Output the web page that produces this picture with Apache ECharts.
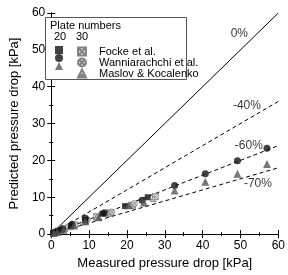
<!DOCTYPE html>
<html>
<head>
<meta charset="UTF-8">
<script src="https://cdn.jsdelivr.net/npm/echarts@6/dist/echarts.min.js"></script>
<style>
  html, body { margin: 0; padding: 0; background: #fff; }
  #chart { width: 288px; height: 275px; }
</style>
</head>
<body>
<div id="chart"></div>
<script>
// measured vs predicted pressure drop [kPa]
var focke20 = [[0.5,0.3],[1.2,0.6],[2.5,1.1],[5.2,2.2],[9.0,3.8],[13.5,5.5],[19.5,7.6],[25.5,10.0]];
var focke30 = [[0.8,0.4],[1.8,0.8],[3.5,1.5],[6.2,2.5],[12.0,4.8],[15.5,5.8],[21.5,7.8],[27.5,10.2]];
var wann20 = [[0.6,0.3],[1.5,0.7],[3.0,1.4],[5.5,2.7],[9.0,4.3],[14.0,5.8],[24.0,9.2],[32.6,13.2],[40.7,16.4],[49.2,19.9],[57.0,23.3]];
var wann30 = [[1.0,0.5],[2.2,1.0],[4.5,2.0],[9.5,3.9],[16.0,6.0],[22.0,8.3]];
var maslov20 = [[0.7,0.3],[1.6,0.6],[3.2,1.2],[6.0,2.3],[9.0,3.5],[12.5,4.6],[20.5,7.8],[24.5,8.6],[32.6,11.8],[40.7,14.2],[49.2,16.4],[57.0,19.0]];
var maslov30 = [[1.1,0.5],[2.6,1.1],[5.0,2.0],[8.5,3.3],[12.0,4.6],[15.0,5.6],[21.0,7.8],[27.0,9.6]];

// deviation lines: predicted = (1 + dev) * measured
var devs = [0, -0.4, -0.6, -0.7];
var devLabels = ['0%', '-40%', '-60%', '-70%'];
var devLabelPos = [[49.7,54.5],[51.7,34.8],[52.2,23.9],[54.6,13.8]];

var font = 'Liberation Sans, Arial, sans-serif';
var sqX = 'path://M0,0L10,0L10,10L0,10Z M0,0L10,10 M10,0L0,10';
var ciX = 'path://M5,0A5,5 0 1 1 5,10A5,5 0 1 1 5,0Z M1.5,1.5L8.5,8.5 M8.5,1.5L1.5,8.5';
var trX = 'path://M5,0L10,10L0,10Z M2.5,5L7.5,10 M7.5,5L2.5,10';

var chart = echarts.init(document.getElementById('chart'));

var series = [];
devs.forEach(function (d, i) {
  series.push({
    type: 'line', data: [[0, 0], [60, 60 * (1 + d)]], symbol: 'none', silent: true,
    lineStyle: { color: '#000', width: 1, type: d === 0 ? 'solid' : [4, 3] },
    z: 1
  });
});
series.push({
  type: 'scatter', silent: true, symbolSize: 1,
  itemStyle: { color: 'transparent' },
  data: devLabelPos.map(function (p, i) { return { value: p, name: devLabels[i] }; }),
  label: { show: true, position: 'inside', formatter: '{b}', color: '#000', fontSize: 12, fontFamily: font }
});

function pts(name, data, symbol, size, fill, border) {
  series.push({
    type: 'scatter', name: name, data: data, symbol: symbol, symbolSize: size,
    itemStyle: { color: fill, borderColor: border, borderWidth: border ? 0.8 : 0 },
    z: 3
  });
}
pts('Focke et al. 30', focke30, sqX, 6, '#ddd', '#666');
pts('Wanniarachchi et al. 30', wann30, ciX, 6, '#ddd', '#666');
pts('Maslov & Kocalenko 30', maslov30, trX, 6, '#ddd', '#666');
pts('Focke et al. 20', focke20, 'rect', 6, '#111', null);
pts('Wanniarachchi et al. 20', wann20, 'circle', 7, '#111', null);
pts('Maslov & Kocalenko 20', maslov20, 'triangle', 8, '#555', null);

var axisBase = {
  type: 'value', min: 0, max: 60, interval: 10,
  axisLine: { show: true, lineStyle: { color: '#000', width: 1 } },
  axisTick: { show: true, inside: true, length: 4, lineStyle: { color: '#000' } },
  minorTick: { show: true, splitNumber: 2, length: 2, lineStyle: { color: '#000' } },
  splitLine: { show: false },
  axisLabel: { color: '#000', fontSize: 12, fontFamily: font, margin: 6 },
  nameTextStyle: { color: '#000', fontSize: 13, fontFamily: font }
};
function ax(extra) { return Object.assign({}, axisBase, extra); }

chart.setOption({
  animation: false,
  grid: { left: 38, right: 5, top: 13, bottom: 31 },
  xAxis: [
    ax({ position: 'bottom', name: 'Measured pressure drop [kPa]', nameLocation: 'middle', nameGap: 14 }),
    ax({ position: 'top', axisLabel: { show: false } })
  ],
  yAxis: [
    ax({ position: 'left', name: 'Predicted pressure drop [kPa]', nameLocation: 'middle', nameGap: 20 }),
    ax({ position: 'right', axisLabel: { show: false } })
  ],
  legend: [
    {
      data: ['Focke et al. 20', 'Wanniarachchi et al. 20', 'Maslov & Kocalenko 20'],
      orient: 'vertical', left: 55, top: 46, itemWidth: 8, itemHeight: 8, itemGap: 0,
      padding: 0, z: 20,
      formatter: function () { return ''; }, selectedMode: false,
      textStyle: { fontSize: 11, lineHeight: 8, height: 8 }
    },
    {
      data: ['Focke et al. 30', 'Wanniarachchi et al. 30', 'Maslov & Kocalenko 30'],
      orient: 'vertical', left: 77, top: 46, itemWidth: 8, itemHeight: 8, itemGap: 0,
      padding: 0, z: 20,
      formatter: function (n) { return n.replace(/ \d+$/, ''); }, selectedMode: false,
      textStyle: { color: '#000', fontSize: 11, fontFamily: font, lineHeight: 8, height: 8, padding: [0, 0, 0, 8] }
    }
  ],
  graphic: [
    { type: 'rect', left: 45, top: 17, z: 3, shape: { width: 141, height: 62 },
      style: { fill: '#fff', stroke: '#555', lineWidth: 1 } },
    { type: 'text', left: 50, top: 20, z: 4, style: { text: 'Plate numbers', fill: '#000', font: '11px ' + font } },
    { type: 'text', left: 54, top: 31, z: 4, style: { text: '20', fill: '#000', font: '11px ' + font } },
    { type: 'text', left: 76, top: 31, z: 4, style: { text: '30', fill: '#000', font: '11px ' + font } }
  ],
  series: series
});
</script>
</body>
</html>
